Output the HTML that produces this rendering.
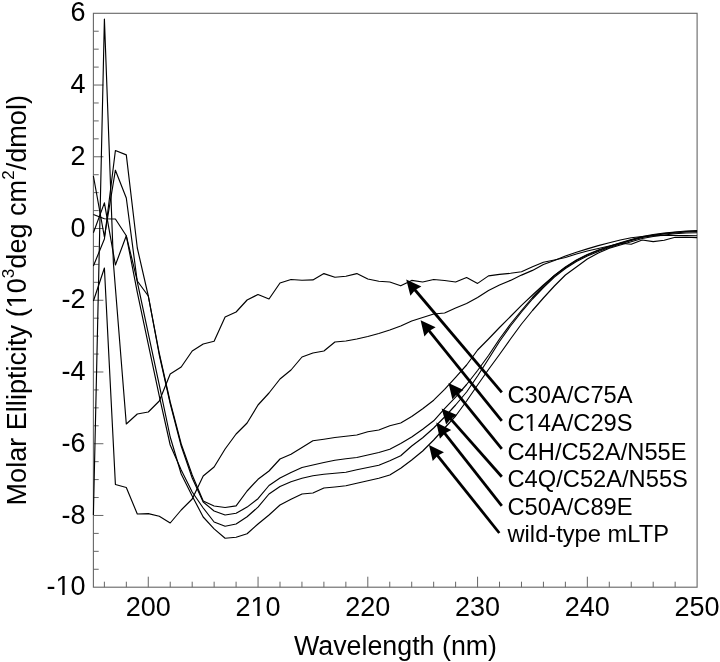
<!DOCTYPE html>
<html><head><meta charset="utf-8"><style>
html,body{margin:0;padding:0;background:#fff;}
svg{display:block;will-change:transform;}
text{font-family:"Liberation Sans",sans-serif;fill:#000;}
.tl{font-size:27px;}
.ti{font-size:26.8px;}
.lg{font-size:23.7px;}
</style></head><body>
<svg width="720" height="662" viewBox="0 0 720 662">
<rect x="93.4" y="13.3" width="603.7" height="573.9" fill="none" stroke="#666" stroke-width="1.1"/>
<path d="M93.4 569.27h5.3M93.4 551.33h5.3M93.4 533.40h5.3M93.4 515.46h10M93.4 497.53h5.3M93.4 479.59h5.3M93.4 461.66h5.3M93.4 443.73h10M93.4 425.79h5.3M93.4 407.86h5.3M93.4 389.92h5.3M93.4 371.99h10M93.4 354.05h5.3M93.4 336.12h5.3M93.4 318.18h5.3M93.4 300.25h10M93.4 282.32h5.3M93.4 264.38h5.3M93.4 246.45h5.3M93.4 228.51h10M93.4 210.58h5.3M93.4 192.64h5.3M93.4 174.71h5.3M93.4 156.78h10M93.4 138.84h5.3M93.4 120.91h5.3M93.4 102.97h5.3M93.4 85.04h10M93.4 67.10h5.3M93.4 49.17h5.3M93.4 31.23h5.3M104.38 587.2v-5.5M126.33 587.2v-5.5M148.28 587.2v-10.5M170.23 587.2v-5.5M192.19 587.2v-5.5M214.14 587.2v-5.5M236.09 587.2v-5.5M258.05 587.2v-10.5M280.00 587.2v-5.5M301.95 587.2v-5.5M323.90 587.2v-5.5M345.86 587.2v-5.5M367.81 587.2v-10.5M389.76 587.2v-5.5M411.71 587.2v-5.5M433.67 587.2v-5.5M455.62 587.2v-5.5M477.57 587.2v-10.5M499.53 587.2v-5.5M521.48 587.2v-5.5M543.43 587.2v-5.5M565.38 587.2v-5.5M587.34 587.2v-10.5M609.29 587.2v-5.5M631.24 587.2v-5.5M653.19 587.2v-5.5M675.15 587.2v-5.5" stroke="#666" stroke-width="1" fill="none"/>
<text x="85.5" y="595.3" text-anchor="end" class="tl">-10</text>
<text x="85.5" y="523.6" text-anchor="end" class="tl">-8</text>
<text x="85.5" y="451.8" text-anchor="end" class="tl">-6</text>
<text x="85.5" y="380.1" text-anchor="end" class="tl">-4</text>
<text x="85.5" y="308.4" text-anchor="end" class="tl">-2</text>
<text x="85.5" y="236.6" text-anchor="end" class="tl">0</text>
<text x="85.5" y="164.9" text-anchor="end" class="tl">2</text>
<text x="85.5" y="93.1" text-anchor="end" class="tl">4</text>
<text x="85.5" y="21.4" text-anchor="end" class="tl">6</text>
<text x="148.3" y="615.8" text-anchor="middle" class="tl">200</text>
<text x="258.0" y="615.8" text-anchor="middle" class="tl">210</text>
<text x="367.8" y="615.8" text-anchor="middle" class="tl">220</text>
<text x="477.6" y="615.8" text-anchor="middle" class="tl">230</text>
<text x="587.3" y="615.8" text-anchor="middle" class="tl">240</text>
<text x="697.1" y="615.8" text-anchor="middle" class="tl">250</text>
<text x="294" y="655.2" class="ti">Wavelength (nm)</text>
<text transform="translate(25.6 505.5) rotate(-90)" class="ti" style="font-size:27.1px">Molar Ellipticity (10<tspan dy="-11.5" font-size="17">3</tspan><tspan dy="11.5">deg cm</tspan><tspan dy="-11.5" font-size="17">2</tspan><tspan dy="11.5">/dmol)</tspan></text>
<text x="507.5" y="403.0" class="lg">C30A/C75A</text>
<text x="507.5" y="430.8" class="lg">C14A/C29S</text>
<text x="507.5" y="459.5" class="lg">C4H/C52A/N55E</text>
<text x="507.5" y="486.8" class="lg">C4Q/C52A/N55S</text>
<text x="507.5" y="515.0" class="lg">C50A/C89E</text>
<text x="507.5" y="542.2" class="lg">wild-type mLTP</text>
<line x1="501.8" y1="392.3" x2="414.61" y2="289.51" stroke="#000" stroke-width="2.8"/>
<path d="M406.20 279.60L421.39 286.38L415.13 290.12L410.41 295.70Z" fill="#000"/>
<line x1="501.8" y1="420.8" x2="428.77" y2="330.32" stroke="#000" stroke-width="2.8"/>
<path d="M420.60 320.20L435.62 327.35L429.27 330.94L424.42 336.39Z" fill="#000"/>
<line x1="501.8" y1="448.8" x2="456.68" y2="393.10" stroke="#000" stroke-width="2.8"/>
<path d="M448.50 383.00L463.54 390.12L457.19 393.72L452.35 399.19Z" fill="#000"/>
<line x1="501.8" y1="476.8" x2="450.20" y2="418.35" stroke="#000" stroke-width="2.8"/>
<path d="M441.60 408.60L456.92 415.08L450.73 418.95L446.13 424.61Z" fill="#000"/>
<line x1="501.8" y1="505.9" x2="444.34" y2="432.82" stroke="#000" stroke-width="2.8"/>
<path d="M436.30 422.60L451.23 429.94L444.83 433.45L439.91 438.84Z" fill="#000"/>
<line x1="499.3" y1="533.0" x2="437.11" y2="455.06" stroke="#000" stroke-width="2.8"/>
<path d="M429.00 444.90L443.98 452.13L437.61 455.69L432.73 461.12Z" fill="#000"/>
<rect x="56.71" y="592.93" width="5.54" height="3.22" fill="#fff"/><rect x="64.63" y="592.93" width="5.39" height="3.22" fill="#fff"/>
<rect x="251.74" y="613.43" width="5.54" height="3.22" fill="#fff"/><rect x="259.66" y="613.43" width="5.39" height="3.22" fill="#fff"/>
<g transform="translate(25.6 505.5) rotate(-90)"><rect x="198.46" y="-2.37" width="5.56" height="3.22" fill="#fff"/><rect x="206.41" y="-2.37" width="5.41" height="3.22" fill="#fff"/></g>
<rect x="525.69" y="428.68" width="4.86" height="2.97" fill="#fff"/><rect x="532.65" y="428.68" width="4.73" height="2.97" fill="#fff"/>
<path d="M93.4 515.0 L104.4 19.0 L113.4 263.0 L126.3 424.0 L137.3 414.0 L148.3 412.0 L159.3 401.0 L170.2 374.0 L181.2 367.0 L192.2 351.0 L203.2 344.0 L214.1 341.3 L225.1 317.0 L236.1 312.0 L247.1 300.0 L258.0 294.5 L269.0 299.0 L280.0 283.0 L291.0 279.5 L302.0 280.3 L312.9 279.9 L323.9 273.6 L334.9 277.2 L345.9 276.3 L356.8 273.6 L367.8 279.0 L378.8 281.2 L389.8 282.0 L400.7 285.8 L411.7 280.4 L422.7 282.0 L433.7 279.5 L444.6 280.5 L455.6 282.0 L466.6 277.5 L477.6 283.4 L488.5 275.9 L499.5 274.4 L510.5 273.3 L521.5 271.8 L532.5 266.8 L543.4 262.3 L554.4 260.0 L565.4 257.5 L576.4 254.0 L587.3 251.0 L598.3 248.5 L609.3 246.0 L620.3 243.3 L631.2 244.2 L642.2 240.0 L653.2 241.6 L664.2 240.3 L675.1 237.3 L686.1 237.3 L697.1 237.6" fill="none" stroke="#000" stroke-width="1.15" stroke-linejoin="round"/>
<path d="M93.4 301.0 L104.4 268.0 L115.4 484.5 L126.3 487.5 L137.3 514.0 L148.3 513.6 L159.3 516.3 L170.2 523.0 L181.2 510.0 L192.2 499.0 L203.2 476.0 L214.1 467.0 L225.1 449.0 L236.1 434.0 L247.1 423.0 L258.0 405.0 L269.0 393.0 L280.0 379.0 L291.0 370.0 L302.0 357.0 L312.9 353.0 L323.9 351.0 L334.9 342.0 L345.9 341.0 L356.8 339.0 L367.8 336.5 L378.8 333.5 L389.8 330.0 L400.7 326.0 L411.7 321.0 L422.7 317.5 L433.7 314.0 L444.6 313.0 L455.6 308.0 L466.6 303.5 L477.6 297.5 L488.5 290.5 L499.5 285.0 L510.5 280.4 L521.5 275.1 L532.5 270.4 L543.4 264.5 L554.4 260.5 L565.4 256.0 L576.4 252.2 L587.3 248.9 L598.3 245.6 L609.3 242.8 L620.3 240.0 L631.2 237.8 L642.2 236.5 L653.2 235.8 L664.2 235.5 L675.1 235.5 L686.1 235.6 L697.1 235.8" fill="none" stroke="#000" stroke-width="1.15" stroke-linejoin="round"/>
<path d="M93.4 266.0 L104.4 239.0 L115.4 150.5 L126.3 154.9 L137.3 248.0 L148.3 296.0 L159.3 353.5 L170.2 402.0 L181.2 444.0 L192.2 475.0 L203.2 501.0 L214.1 506.0 L225.1 507.5 L236.1 505.9 L247.1 491.0 L258.0 479.3 L269.0 471.0 L280.0 459.0 L291.0 454.2 L302.0 447.5 L312.9 440.8 L323.9 439.2 L334.9 437.5 L345.9 436.3 L356.8 435.0 L367.8 431.7 L378.8 430.0 L389.8 425.8 L400.7 423.0 L411.7 416.5 L422.7 408.7 L433.7 400.2 L444.6 389.3 L455.6 377.3 L466.6 365.0 L477.6 350.0 L488.5 339.0 L499.5 327.5 L510.5 316.5 L521.5 305.3 L532.5 295.0 L543.4 285.0 L554.4 275.5 L565.4 267.0 L576.4 260.0 L587.3 254.5 L598.3 250.0 L609.3 246.3 L620.3 242.8 L631.2 239.5 L642.2 236.5 L653.2 234.5 L664.2 233.0 L675.1 232.0 L686.1 231.0 L697.1 230.5" fill="none" stroke="#000" stroke-width="1.15" stroke-linejoin="round"/>
<path d="M93.4 214.5 L104.4 218.8 L115.4 219.0 L126.3 235.8 L137.3 281.0 L148.3 296.0 L159.3 355.0 L170.2 403.5 L181.2 446.0 L192.2 478.0 L203.2 502.0 L214.1 511.0 L225.1 515.0 L236.1 513.2 L247.1 507.1 L258.0 498.7 L269.0 485.5 L280.0 478.0 L291.0 472.5 L302.0 467.5 L312.9 465.0 L323.9 462.5 L334.9 460.3 L345.9 458.7 L356.8 457.5 L367.8 455.0 L378.8 452.5 L389.8 449.2 L400.7 443.5 L411.7 437.0 L422.7 429.2 L433.7 420.8 L444.6 408.7 L455.6 397.2 L466.6 384.5 L477.6 370.5 L488.5 355.5 L499.5 339.0 L510.5 324.0 L521.5 310.5 L532.5 297.5 L543.4 286.0 L554.4 275.5 L565.4 267.5 L576.4 260.5 L587.3 255.0 L598.3 250.5 L609.3 246.8 L620.3 243.3 L631.2 240.0 L642.2 237.0 L653.2 235.0 L664.2 233.5 L675.1 232.3 L686.1 231.5 L697.1 231.0" fill="none" stroke="#000" stroke-width="1.15" stroke-linejoin="round"/>
<path d="M93.4 232.8 L104.4 202.9 L115.4 265.0 L126.3 235.8 L137.3 292.3 L148.3 344.4 L159.3 396.1 L170.2 445.0 L181.2 470.0 L192.2 492.0 L203.2 508.0 L214.1 522.0 L225.1 526.2 L236.1 524.0 L247.1 516.8 L258.0 507.1 L269.0 494.0 L280.0 486.5 L291.0 481.7 L302.0 478.3 L312.9 475.8 L323.9 474.2 L334.9 473.3 L345.9 472.2 L356.8 469.7 L367.8 467.5 L378.8 465.3 L389.8 460.8 L400.7 455.8 L411.7 446.0 L422.7 437.7 L433.7 428.0 L444.6 417.0 L455.6 405.0 L466.6 392.0 L477.6 376.0 L488.5 359.0 L499.5 341.5 L510.5 326.0 L521.5 312.0 L532.5 299.0 L543.4 287.5 L554.4 277.0 L565.4 268.5 L576.4 261.5 L587.3 256.0 L598.3 251.5 L609.3 247.5 L620.3 244.0 L631.2 240.5 L642.2 237.5 L653.2 235.5 L664.2 234.0 L675.1 233.0 L686.1 232.0 L697.1 231.5" fill="none" stroke="#000" stroke-width="1.15" stroke-linejoin="round"/>
<path d="M93.4 176.0 L104.4 237.0 L115.4 170.2 L126.3 198.0 L137.3 281.8 L148.3 333.7 L159.3 385.2 L170.2 437.0 L181.2 474.0 L192.2 496.0 L203.2 517.0 L214.1 528.9 L225.1 538.2 L236.1 537.3 L247.1 533.7 L258.0 524.0 L269.0 515.0 L280.0 505.0 L291.0 499.2 L302.0 494.0 L312.9 493.0 L323.9 488.0 L334.9 487.0 L345.9 485.8 L356.8 483.3 L367.8 480.8 L378.8 478.3 L389.8 475.0 L400.7 468.3 L411.7 460.0 L422.7 451.0 L433.7 440.0 L444.6 428.0 L455.6 416.0 L466.6 401.0 L477.6 385.0 L488.5 369.5 L499.5 354.5 L510.5 339.0 L521.5 324.0 L532.5 310.5 L543.4 298.0 L554.4 286.0 L565.4 275.0 L576.4 267.0 L587.3 259.0 L598.3 253.0 L609.3 248.3 L620.3 245.0 L631.2 241.7 L642.2 238.5 L653.2 236.5 L664.2 235.0 L675.1 233.8 L686.1 233.0 L697.1 232.7" fill="none" stroke="#000" stroke-width="1.15" stroke-linejoin="round"/>
</svg>
</body></html>
